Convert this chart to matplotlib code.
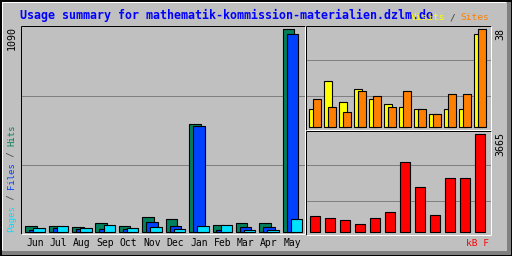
import matplotlib
matplotlib.use("Agg")
import matplotlib.pyplot as plt
import numpy as np
from matplotlib.patches import Rectangle

# monthly values (Jun .. May)
months = ["Jun", "Jul", "Aug", "Sep", "Oct", "Nov", "Dec", "Jan", "Feb", "Mar", "Apr", "May"]
hits = [32, 32, 27, 48, 32, 80, 70, 580, 41, 48, 48, 1090]
files = [12, 23, 18, 18, 18, 53, 32, 569, 12, 27, 27, 1063]
pages = [23, 32, 23, 38, 23, 27, 18, 32, 41, 12, 12, 70]
visits = [7, 18, 10, 15, 11, 9, 8, 7, 5, 7, 7, 36]
sites = [11, 8, 6, 14, 12, 8, 14, 7, 5, 13, 13, 38]
kbytes = [598, 524, 449, 299, 524, 748, 2618, 1683, 636, 2019, 2019, 3665]

title = "Usage summary for mathematik-kommission-materialien.dzlm.de"

GRAY = "#C0C0C0"
DARK = "#808080"
C_HITS, C_FILES, C_PAGES = "#00805C", "#0040FF", "#00E0FF"
C_VISITS, C_SITES, C_KB = "#FFFF00", "#FF8000", "#FF0000"
W, H = 512, 256
MONO = "DejaVu Sans Mono"

fig = plt.figure(figsize=(W / 100, H / 100), dpi=100)
fig.patch.set_facecolor(GRAY)

# overlay in pixel coordinates for frames and text
bg = fig.add_axes([0, 0, 1, 1])
bg.set_xlim(0, W)
bg.set_ylim(H, 0)
bg.axis("off")

def line(x0, y0, x1, y1, c, lw=1):
    bg.plot([x0, x1], [y0, y1], color=c, lw=lw * 0.72, solid_capstyle="butt", zorder=1)

# outer bevel
bg.add_patch(Rectangle((507, 1), 4, 254, color=DARK, lw=0, zorder=0))
bg.add_patch(Rectangle((1, 250.5), 510, 5, color=DARK, lw=0, zorder=0))
line(1.5, 1.5, 506, 1.5, "white", 2)
line(1.5, 1.5, 1.5, 250, "white", 2)
bg.add_patch(Rectangle((0.5, 0.5), 511, 255, fill=False, ec="black", lw=1.4, zorder=2))

# panels: (left, right, top, bottom, gridlines)
panels = [
    (20.5, 305, 25.5, 234, [95.7, 165.0]),
    (305.5, 491, 25.5, 130, [60.3, 95.7]),
    (305.5, 491, 130.5, 235, [165.3, 200.7]),
]
for x0, x1, y0, y1, grid in panels:
    for gy in grid:
        line(x0, gy, x1, gy, DARK)
    line(x0, y0, x1, y0, "black")
    line(x0, y0, x0, y1, "black")
    line(x0, y1, x1, y1, "white")
    line(x1, y0, x1, y1, "white")

def data_axes(px0, px1, ptop, pbot, first, step, base, vmax, vtop):
    # axes over a pixel box; x in slot units, y in data units
    ax = fig.add_axes([px0 / W, 1 - pbot / H, (px1 - px0) / W, (pbot - ptop) / H])
    k = vmax / (base - vtop)
    ax.set_xlim((px0 - first) / step, (px1 - first) / step)
    ax.set_ylim(-(pbot - base) * k, (base - ptop) * k)
    ax.axis("off")
    ax.patch.set_alpha(0)
    return ax

idx = np.arange(len(months))
bar_kw = dict(align="edge", edgecolor="black", linewidth=0.8)

# left: hits / files / pages
step = 23.4
axl = data_axes(21, 304, 26, 233.5, 25.3, step, 232.3, max(hits), 29.3)
axl.bar(idx, hits, width=11.4 / step, color=C_HITS, **bar_kw)
axl.bar(idx + 4 / step, files, width=11.4 / step, color=C_FILES, **bar_kw)
axl.bar(idx + 8 / step, pages, width=11.4 / step, color=C_PAGES, **bar_kw)

# top right: visits / sites
step2 = 15.0
axv = data_axes(306, 490, 26, 129.5, 309.3, step2, 127.3, max(sites), 29.3)
axv.bar(idx, visits, width=7.4 / step2, color=C_VISITS, **bar_kw)
axv.bar(idx + 4 / step2, sites, width=7.4 / step2, color=C_SITES, **bar_kw)

# bottom right: kbytes
axk = data_axes(306, 490, 131, 234.5, 310.0, step2, 232.3, max(kbytes), 134.3)
axk.bar(idx, kbytes, width=9.7 / step2, color=C_KB, **bar_kw)

# text
bg.text(20, 19.5, title, color="#0000FF", fontsize=8.4, family=MONO,
        fontweight="bold", va="baseline", ha="left", zorder=3)
bg.text(411, 20.5, "Visits", color=C_VISITS, fontsize=6.8, family=MONO, va="baseline", zorder=4)
bg.text(450, 20.5, "/", color="#404040", fontsize=6.8, family=MONO, va="baseline", zorder=4)
bg.text(460, 20.5, "Sites", color=C_SITES, fontsize=6.8, family=MONO, va="baseline", zorder=4)

# rotated left label, bottom to top
ypos = 232
for txt, c in [("Pages", C_PAGES), (" / ", "#404040"), ("Files", C_FILES),
               (" / ", "#404040"), ("Hits", C_HITS)]:
    bg.text(11.5, ypos, txt, color=c, fontsize=6.4, family=MONO, rotation=90,
            ha="center", va="bottom", zorder=3)
    ypos -= len(txt) * 0.602 * 6.4 / 72 * 100

bg.text(12, 26.5, str(max(hits)), rotation=90, fontsize=7.2, family=MONO, ha="center", va="top")
bg.text(500, 28, str(max(sites)), rotation=90, fontsize=7.2, family=MONO, ha="center", va="top")
bg.text(500, 131.5, str(max(kbytes)), rotation=90, fontsize=7.2, family=MONO, ha="center", va="top")

for i, m in enumerate(months):
    bg.text(25.3 + 9.7 + i * step, 237.5, m, fontsize=7.0, family=MONO, ha="center", va="top")
bg.text(489.5, 238.5, "kB F", color=C_KB, fontsize=6.8, family=MONO, ha="right", va="top")

fig.savefig("out.png", dpi=100, facecolor=GRAY)
